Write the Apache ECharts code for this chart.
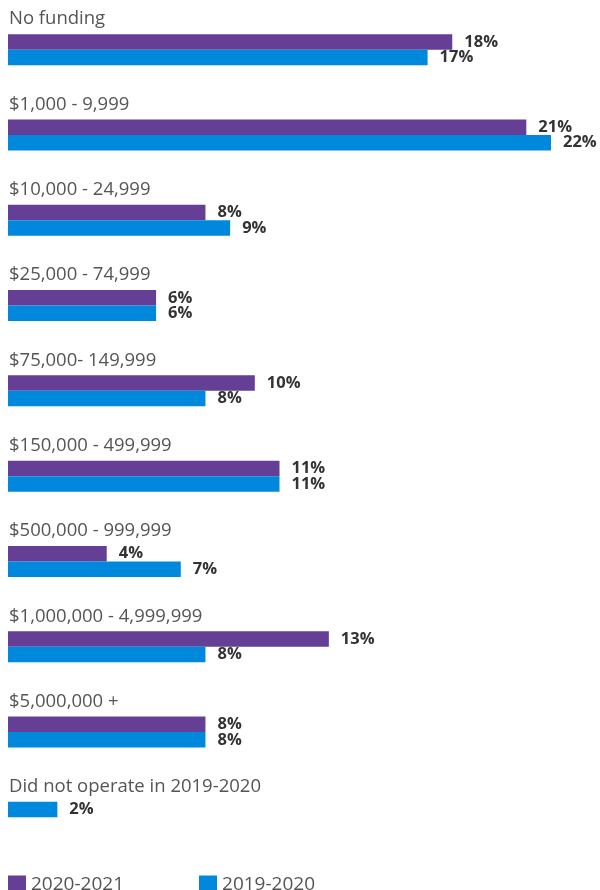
<!DOCTYPE html>
<html>
<head>
<meta charset="utf-8">
<script src="https://cdn.jsdelivr.net/npm/echarts@6/dist/echarts.min.js"></script>
<style>
  html, body { margin: 0; padding: 0; background: #fff; }
  #main { width: 600px; height: 890px; }
</style>
</head>
<body>
<div id="main"></div>
<script>
// funding ranges, top to bottom
const categories = [
  "No funding",
  "$1,000 - 9,999",
  "$10,000 - 24,999",
  "$25,000 - 74,999",
  "$75,000- 149,999",
  "$150,000 - 499,999",
  "$500,000 - 999,999",
  "$1,000,000 - 4,999,999",
  "$5,000,000 +",
  "Did not operate in 2019-2020"
];
// percent of respondents
const y2021 = [18, 21, 8, 6, 10, 11, 4, 13, 8, null];
const y2020 = [17, 22, 9, 6, 8, 11, 7, 8, 8, null];
// the "did not operate" row only has one bar, drawn in the first slot
const y2020Only = [null, null, null, null, null, null, null, null, null, 2];

const PURPLE = "#653E96";
const BLUE = "#0088DD";
const FONT = "'Open Sans', Lato, sans-serif";

const valueLabel = {
  show: true,
  position: "right",
  distance: 12,
  formatter: "{c}%",
  color: "#333",
  fontSize: 16.5,
  fontWeight: "bold",
  fontFamily: FONT
};

const chart = echarts.init(document.getElementById("main"));
chart.setOption({
  animation: false,
  grid: { left: 8, right: 49, top: 7, bottom: 30, containLabel: false },
  legend: {
    data: ["2020-2021", "2019-2020"],
    left: 3,
    top: 870,
    icon: "rect",
    itemWidth: 18,
    itemHeight: 18,
    itemGap: 75,
    textStyle: { color: "#555", fontSize: 19, fontFamily: FONT }
  },
  xAxis: {
    type: "value",
    min: 0,
    max: 22,
    show: false
  },
  yAxis: {
    type: "category",
    data: categories,
    inverse: true,
    axisLine: { show: false },
    axisTick: { show: false },
    splitLine: { show: false },
    axisLabel: {
      inside: true,
      margin: 1,
      align: "left",
      verticalAlign: "middle",
      // name on the first line, empty spacer below pushes it above the bars
      formatter: function (v) { return "{t|" + v + "}\n{s|}"; },
      rich: {
        t: { color: "#555", fontSize: 18.5, fontFamily: FONT, lineHeight: 20 },
        s: { height: 61, lineHeight: 61 }
      }
    }
  },
  series: [
    {
      name: "2020-2021",
      type: "bar",
      stack: "first",
      data: y2021,
      barWidth: 15.5,
      barGap: "0%",
      itemStyle: { color: PURPLE },
      label: valueLabel
    },
    {
      name: "2019-2020",
      type: "bar",
      data: y2020,
      barWidth: 15.5,
      barGap: "0%",
      itemStyle: { color: BLUE },
      label: valueLabel
    },
    {
      name: "2019-2020",
      type: "bar",
      stack: "first",
      data: y2020Only,
      barWidth: 15.5,
      itemStyle: { color: BLUE },
      label: valueLabel
    }
  ]
});
</script>
</body>
</html>
